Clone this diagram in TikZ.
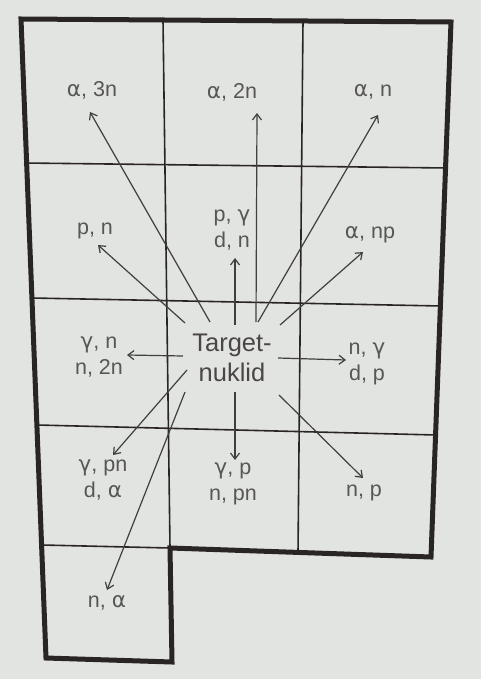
\documentclass[tikz,border=0pt]{standalone}
\usepackage{fontspec}
\setmainfont{Liberation Sans}
\newfontfamily\grk{DejaVu Sans}
\newcommand{\myal}{{\grk α}}
\newcommand{\mygam}{{\grk γ}}
\usetikzlibrary{arrows.meta}
\definecolor{paper}{HTML}{E2E4E1}
\definecolor{ink}{HTML}{2A2525}
\definecolor{lab}{HTML}{575757}
\definecolor{arr}{HTML}{3F3F3F}
\tikzset{
  lbl/.style={text=lab, inner sep=0pt, align=center, font=\fontsize{21.5}{26}\selectfont},
  tgt/.style={text=ink!85, inner sep=0pt, align=center, font=\fontsize{25.5}{30}\selectfont},
  thin/.style={draw=ink, line width=1.6pt},
  thick/.style={draw=ink, line width=5pt, line join=miter},
  rx/.style={draw=arr, line width=1.2pt, -{Straight Barb[length=6pt,width=9pt,line width=1.2pt]}}
}
\begin{document}
\begin{tikzpicture}[x=1pt,y=-1pt]
\fill[paper] (0,0) rectangle (481,679);
\useasboundingbox (0,0) rectangle (481,679);
% grid points
\coordinate (TL) at (21,19);  \coordinate (T1) at (163,20); \coordinate (T2) at (303,21); \coordinate (TR) at (451,22);
\coordinate (A0) at (24,163); \coordinate (A1) at (165,165); \coordinate (A2) at (302,166); \coordinate (A3) at (447,168);
\coordinate (B0) at (32,298); \coordinate (B1) at (166,301); \coordinate (B2) at (301,303); \coordinate (B3) at (441,306);
\coordinate (C0) at (37,425); \coordinate (C1) at (168,428); \coordinate (C2) at (299,431); \coordinate (C3) at (436,435);
\coordinate (D0) at (42,545); \coordinate (D1) at (170,548); \coordinate (D2) at (298,553); \coordinate (D3) at (431,557);
\coordinate (E0) at (46,658); \coordinate (E1) at (172,662);
% thin grid
\draw[thin] (T1) -- (D1);
\draw[thin] (T2) -- (D2);
\draw[thin] (A0) -- (A3);
\draw[thin] (B0) -- (B3);
\draw[thin] (C0) -- (C3);
\draw[thin] (D0) -- (D1);
% thick outline
\draw[thick] (TL) -- (TR) -- (D3) -- (D1) -- (E1) -- (E0) -- cycle;
% labels
\node[lbl] (a3n) at (92,90) {\myal, 3n};
\node[lbl] (a2n) at (232,92) {\myal, 2n};
\node[lbl] (an)  at (373,92) {\myal, n};
\node[lbl] (pn)  at (95,231) {p, n};
\node[lbl] (pg)  at (232,230) {p, \mygam\\d, n};
\node[lbl] (anp) at (370,235) {\myal, np};
\node[lbl] (gn)  at (99,357) {\mygam, n\\n, 2n};
\node[tgt] (T)   at (232,358) {Target-\\nuklid};
\node[lbl] (ng)  at (367,364) {n, \mygam\\d, p};
\node[lbl] (gpn) at (103,480) {\mygam, pn\\d, \myal};
\node[lbl] (gp)  at (233,484) {\mygam, p\\n, pn};
\node[lbl] (np)  at (364,493) {n, p};
\node[lbl] (na)  at (107,603) {n, \myal};
% arrow ends
\coordinate (s1) at (210,322); \coordinate (h1) at (90,112);
\coordinate (s2) at (256,322); \coordinate (h2) at (257,113);
\coordinate (s3) at (258,322); \coordinate (h3) at (378,115);
\coordinate (s4) at (185,323); \coordinate (h4) at (98,245);
\coordinate (s5) at (235,325); \coordinate (h5) at (235,258);
\coordinate (s6) at (280,325); \coordinate (h6) at (363,252);
\coordinate (s7) at (183,356); \coordinate (h7) at (127,355);
\coordinate (s8) at (278,358); \coordinate (h8) at (346,360);
\coordinate (s9) at (187,370); \coordinate (h9) at (113,455);
\coordinate (s10) at (185,392); \coordinate (h10) at (107,590);
\coordinate (s11) at (235,392); \coordinate (h11) at (235,460);
\coordinate (s12) at (279,395); \coordinate (h12) at (363,478);
\foreach \i in {1,...,12} { \draw[rx] (s\i) -- (h\i); }
\end{tikzpicture}
\end{document}
